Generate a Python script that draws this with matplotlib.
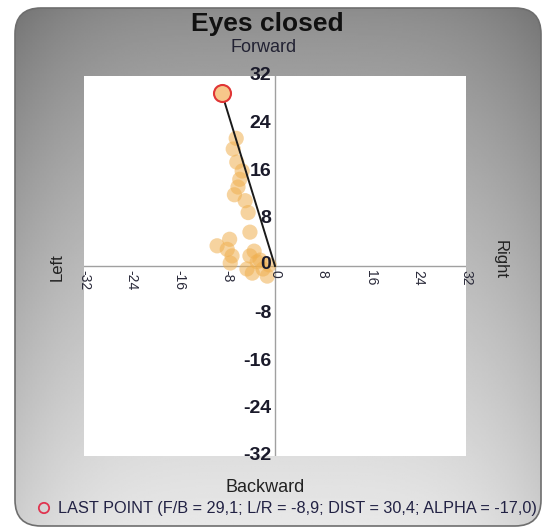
import numpy as np
import matplotlib
matplotlib.use('Agg')
import matplotlib.pyplot as plt
from matplotlib.patches import FancyBboxPatch

plt.rcParams['font.family'] = ['Liberation Sans', 'DejaVu Sans']

# sway samples (left/right, forward/backward) in mm
lr = [-9.7, -7.6, -7.2, -4.2, -3.0, -2.0, -4.7, -1.3, -4.5, -4.2, -6.2, -5.9,
      -6.4, -7.0, -5.0, -3.5, -2.5, -6.5, -8.0, -3.8, -1.0, -5.5, -6.8, -7.5]
fb = [3.4, 4.5, 1.7, 1.7, 0.7, -0.5, -0.5, -1.7, 9.0, 5.7, 13.3, 14.6,
      17.5, 19.7, 11.0, 2.5, 1.0, 21.5, 2.8, -1.2, 0.2, 16.0, 12.0, 0.5]
last_lr, last_fb = -8.9, 29.1
dist, alpha = 30.4, -17.0
ticks = [-32, -24, -16, -8, 0, 8, 16, 24, 32]

W, H = 545, 529
fig = plt.figure(figsize=(W / 100, H / 100), dpi=100)
fig.patch.set_facecolor('white')

# rounded grey panel with a soft gradient
bg = fig.add_axes([0, 0, 1, 1])
bg.set_xlim(0, W)
bg.set_ylim(H, 0)
bg.axis('off')
px0, py0, px1, py1 = 15, 8, 541, 526
yy, xx = np.mgrid[0:1:300j, 0:1:300j]
shade = 0.55 + 0.36 * yy ** 0.8 - 0.10 * np.abs(2 * xx - 1) ** 4
panel = FancyBboxPatch((px0, py0), px1 - px0, py1 - py0,
                       boxstyle='round,pad=0,rounding_size=26',
                       facecolor='none', edgecolor='#6e6e6e', lw=1.2, zorder=3)
bg.add_patch(panel)
img = bg.imshow(shade, cmap='gray', vmin=0, vmax=1, extent=(px0, px1, py1, py0),
                aspect='auto', interpolation='bilinear', zorder=1)
img.set_clip_path(panel)

# plot area
ax = fig.add_axes([84 / W, 1 - 456 / H, (466 - 84) / W, (456 - 76) / H])
ax.set_facecolor('white')
ax.set_xlim(-32, 32)
ax.set_ylim(-32, 32)
for s in ax.spines.values():
    s.set_visible(False)
ax.set_xticks([])
ax.set_yticks([])
ax.axhline(0, color='#a0a0a0', lw=1, zorder=1)
ax.axvline(0, color='#a0a0a0', lw=1, zorder=1)

ax.scatter(lr, fb, s=120, color='#f0b050', alpha=0.55, edgecolors='none', zorder=2)
ax.plot([0, last_lr], [0, last_fb], color='#1a1a1a', lw=1.4, zorder=3)
ax.scatter([last_lr], [last_fb], s=150, facecolor='#f7c78a',
           edgecolor='#e03535', lw=1.5, zorder=4)

for t in ticks:
    ax.text(t, -0.6, str(t), rotation=-90, ha='center', va='top',
            fontsize=10, color='#2a2a3a', clip_on=False)
    if t != 0:
        ax.text(-0.6, t, str(t), ha='right', va='center', fontsize=14,
                fontweight='bold', color='#1a1a2a', clip_on=False)
ax.text(-0.6, 0.3, '0', ha='right', va='center', fontsize=14,
        fontweight='bold', color='#1a1a2a', clip_on=False)

bg.text(267, 24, 'Eyes closed', ha='center', va='center', fontsize=19,
        fontweight='bold', color='#111111', zorder=5)
bg.text(264, 47, 'Forward', ha='center', va='center', fontsize=13,
        color='#222233', zorder=5)
bg.text(265, 487, 'Backward', ha='center', va='center', fontsize=13,
        color='#222222', zorder=5)
bg.text(57, 267, 'Left', ha='center', va='center', rotation=90, fontsize=12,
        color='#222222', zorder=5)
bg.text(500, 260, 'Right', ha='center', va='center', rotation=-90, fontsize=12,
        color='#222222', zorder=5)

# legend line for the last sample
bg.scatter([44], [508], s=55, facecolor='none', edgecolor='#e03550', lw=1.3, zorder=5)
leg = bg.text(58, 508, 'LAST POINT (F/B = {:.1f}; L/R = {:.1f}; DIST = {:.1f}; ALPHA = {:.1f})'
              .format(last_fb, last_lr, dist, alpha).replace('.', ','),
              ha='left', va='center', fontsize=11.7, color='#222244', zorder=5)
leg.set_clip_path(panel)

fig.savefig('out.png', dpi=100, facecolor='white')
